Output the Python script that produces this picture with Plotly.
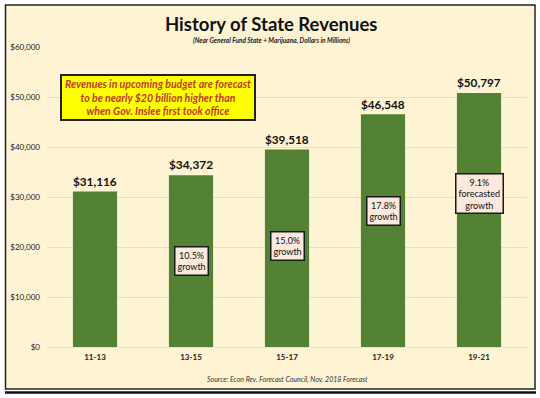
import plotly.graph_objects as go

categories = ["11-13", "13-15", "15-17", "17-19", "19-21"]
revenues = [31116, 34372, 39518, 46548, 50797]
value_labels = ["$31,116", "$34,372", "$39,518", "$46,548", "$50,797"]
growth_cats = ["13-15", "15-17", "17-19", "19-21"]
growth_labels = ["10.5%<br>growth", "15.0%<br>growth", "17.8%<br>growth", "9.1%<br>forecasted<br>growth"]
growth_ypos = [17200, 20200, 27200, 30800]
y_ticks = [0, 10000, 20000, 30000, 40000, 50000, 60000]
y_tick_labels = ["$0", "$10,000", "$20,000", "$30,000", "$40,000", "$50,000", "$60,000"]

W, H = 540, 398
FONT = "Lato"
BG = "#FEF3D3"

def px(x):
    return x / W

def py(y):
    return 1 - y / H

fig = go.Figure()
fig.add_trace(go.Bar(
    x=categories, y=revenues,
    marker=dict(color="#548235", line=dict(width=0)),
    width=0.46,
    text=value_labels, textposition="outside",
    textfont=dict(family=FONT, size=13, color="#111111", weight="bold"),
    cliponaxis=False,
    hoverinfo="skip",
))

shapes = [
    dict(type="rect", xref="paper", yref="paper",
         x0=px(5.5), x1=px(535), y0=py(389), y1=py(5),
         fillcolor=BG, line=dict(color="#222222", width=1.5), layer="below"),
    dict(type="line", xref="paper", yref="paper",
         x0=px(5), x1=px(536), y0=py(392.5), y1=py(392.5),
         line=dict(color="#111111", width=2.5)),
]

annotations = [
    dict(text="<b>History of State Revenues</b>", xref="paper", yref="paper",
         x=px(271), y=py(24), showarrow=False, xanchor="center", yanchor="middle",
         font=dict(family=FONT, size=18.5, color="#111111")),
    dict(text="<b><i>(Near General Fund State + Marijuana, Dollars in Millions)</i></b>",
         xref="paper", yref="paper", x=px(271), y=py(40), showarrow=False,
         xanchor="center", yanchor="middle",
         font=dict(family=FONT, size=6.5, color="#222222")),
    dict(text="<i>Source: Econ Rev. Forecast Council, Nov. 2018 Forecast</i>",
         xref="paper", yref="paper", x=px(287), y=py(379), showarrow=False,
         xanchor="center", yanchor="middle",
         font=dict(family=FONT, size=7, color="#333333")),
    dict(text="<b><i>Revenues in upcoming budget are forecast<br>to be nearly $20 billion higher than<br>when Gov. Inslee first took office</i></b>",
         xref="paper", yref="paper", x=px(158), y=py(97.5), showarrow=False,
         xanchor="center", yanchor="middle", align="center",
         width=190, height=41,
         bgcolor="#FFFF00", bordercolor="#222222", borderwidth=2, borderpad=1,
         font=dict(family=FONT, size=10.5, color="#C0392B")),
]

for c, t, yv in zip(growth_cats, growth_labels, growth_ypos):
    annotations.append(dict(
        text=t, x=c, y=yv, xref="x", yref="y", showarrow=False,
        xanchor="center", yanchor="middle", align="center",
        bgcolor="#FBE9DE", bordercolor="#1a1a1a", borderwidth=1.5, borderpad=2,
        font=dict(family=FONT, size=9, color="#111111"),
    ))

fig.update_layout(
    width=W, height=H,
    margin=dict(l=0, r=0, t=0, b=0),
    autosize=False,
    paper_bgcolor="white",
    plot_bgcolor="rgba(0,0,0,0)",
    showlegend=False,
    shapes=shapes,
    annotations=annotations,
    xaxis=dict(
        domain=[px(47), px(527)],
        automargin=False,
        showgrid=False, zeroline=False, showline=False,
        ticks="", tickfont=dict(family=FONT, size=8, color="#222222", weight="bold"),
        ticklabelstandoff=4,
    ),
    yaxis=dict(
        domain=[1 - 347 / H, 1 - 47 / H],
        range=[0, 60000],
        automargin=False,
        tickvals=y_ticks, ticktext=y_tick_labels,
        showgrid=True, gridcolor="#EADFC2", gridwidth=1,
        zeroline=True, zerolinecolor="#EADFC2", zerolinewidth=1,
        showline=False, ticks="",
        tickfont=dict(family=FONT, size=8, color="#222222"),
        ticklabelstandoff=6,
    ),
)

fig.write_html("out.html", config={"displayModeBar": False},
               post_script="document.body.style.margin='0';")
